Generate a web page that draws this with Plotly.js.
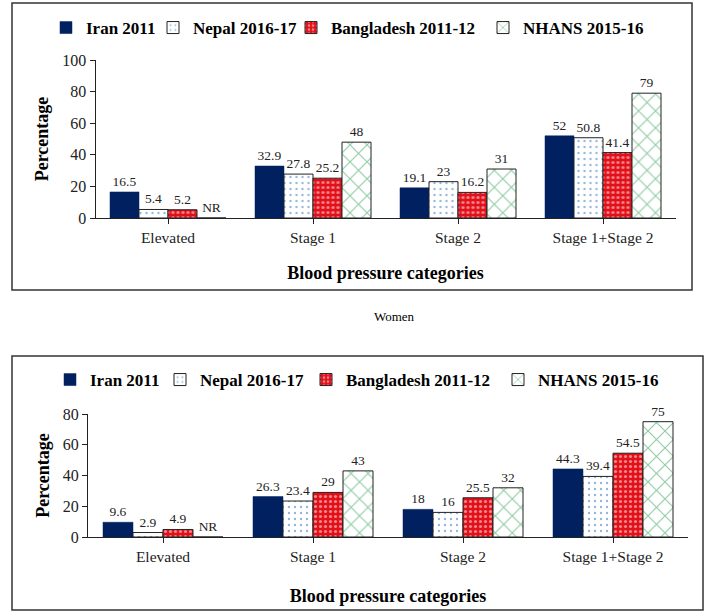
<!DOCTYPE html>
<html>
<head>
<meta charset="utf-8">
<script src="https://cdn.plot.ly/plotly-3.0.1.min.js"></script>
<style>html,body{margin:0;padding:0;background:#fff;}#chart{width:709px;height:614px;}</style>
</head>
<body>
<div id="chart"></div>
<script>
// ---- data ----
var categories = ["Elevated", "Stage 1", "Stage 2", "Stage 1+Stage 2"];
var seriesNames = ["Iran 2011", "Nepal 2016-17", "Bangladesh 2011-12", "NHANS 2015-16"];

// top chart
var iranTop = [16.5, 32.9, 19.1, 52];
var nepalTop = [5.4, 27.8, 23, 50.8];
var bangladeshTop = [5.2, 25.2, 16.2, 41.4];
var nhansTop = [null, 48, 31, 79];   // null = NR

// bottom chart
var iranBottom = [9.6, 26.3, 18, 44.3];
var nepalBottom = [2.9, 23.4, 16, 39.4];
var bangladeshBottom = [4.9, 29, 25.5, 54.5];
var nhansBottom = [null, 43, 32, 75];

var yTicksTop = [0, 20, 40, 60, 80, 100];
var yTicksBottom = [0, 20, 40, 60, 80];

var captionText = "Women";
var xTitle = "Blood pressure categories";
var yTitle = "Percentage";

// ---- styles ----
var W = 709, H = 614;
function px(x) { return x / W; }
function py(y) { return 1 - y / H; }
var serif = "Liberation Serif";

var styles = [
  { color: "#002060", line: { color: "#002060", width: 0.5 }, pattern: null },
  { color: "#ffffff", line: { color: "#222", width: 1 },
    pattern: { shape: ".", fgcolor: "#2a6ab8", bgcolor: "#ffffff", size: 6, solidity: 0.12, fillmode: "overlay" } },
  { color: "#e3101a", line: { color: "#222", width: 1 },
    pattern: { shape: ".", fgcolor: "#ffffff", bgcolor: "#e3101a", size: 5, solidity: 0.3, fillmode: "overlay" } },
  { color: "#ffffff", line: { color: "#222", width: 1 },
    pattern: { shape: "x", fgcolor: "#1e9a48", bgcolor: "#ffffff", size: 12, solidity: 0.18, fillmode: "overlay" } }
];
var legendWidthsTop = [62, 93, 147, 125];
var legendWidthsBottom = [65, 101, 147, 125];

function makeTraces(seriesList, xa, ya, legendId, widths) {
  return seriesList.map(function (vals, i) {
    var st = styles[i];
    var marker = { color: st.color, line: st.line };
    if (st.pattern) marker.pattern = st.pattern;
    return {
      type: "bar",
      name: seriesNames[i],
      x: categories,
      y: vals.map(function (v) { return v === null ? 0 : v; }),
      text: vals.map(function (v) { return v === null ? "NR" : String(v); }),
      textposition: "outside",
      textfont: { family: serif, size: 13.5, color: "#222" },
      cliponaxis: false,
      marker: marker,
      xaxis: xa, yaxis: ya,
      legend: legendId,
      legendwidth: widths[i],
      hoverinfo: "x+y+name"
    };
  });
}

var traces = []
  .concat(makeTraces([iranTop, nepalTop, bangladeshTop, nhansTop], "x", "y", "legend", legendWidthsTop))
  .concat(makeTraces([iranBottom, nepalBottom, bangladeshBottom, nhansBottom], "x2", "y2", "legend2", legendWidthsBottom));

function xAxis(domain, anchor, standoff) {
  return {
    domain: domain, anchor: anchor, type: "category",
    showline: true, linecolor: "#222", linewidth: 1,
    ticks: "outside", ticklen: 5, tickcolor: "#222",
    tickfont: { family: serif, size: 15.5, color: "#222" },
    showgrid: false, zeroline: false, fixedrange: true,
    title: { text: xTitle, font: { family: serif, size: 18, color: "#000", weight: "bold" }, standoff: standoff }
  };
}
function yAxis(domain, anchor, range, ticks) {
  return {
    domain: domain, anchor: anchor, range: range,
    tickmode: "array", tickvals: ticks,
    showline: true, linecolor: "#222", linewidth: 1,
    ticks: "outside", ticklen: 5, tickcolor: "#222",
    tickfont: { family: serif, size: 16, color: "#222" },
    showgrid: false, zeroline: false, fixedrange: true,
    title: { text: yTitle, font: { family: serif, size: 18, color: "#000", weight: "bold" }, standoff: 8 }
  };
}

var legendFont = { family: serif, size: 17, color: "#000", weight: "bold" };

var layout = {
  width: W, height: H,
  margin: { l: 0, r: 0, t: 0, b: 0 },
  paper_bgcolor: "#ffffff", plot_bgcolor: "#ffffff",
  barmode: "group", bargap: 0.2, bargroupgap: 0,
  xaxis: xAxis([px(95.5), px(675.5)], "y", 21),
  yaxis: yAxis([py(218), py(60)], "x", [0, 100], yTicksTop),
  xaxis2: xAxis([px(88), px(688)], "y2", 25),
  yaxis2: yAxis([py(537), py(414)], "x2", [0, 80], yTicksBottom),
  legend: { orientation: "h", x: px(46), y: py(28), xanchor: "left", yanchor: "middle",
            font: legendFont, bgcolor: "rgba(0,0,0,0)", traceorder: "normal" },
  legend2: { orientation: "h", x: px(50), y: py(380), xanchor: "left", yanchor: "middle",
             font: legendFont, bgcolor: "rgba(0,0,0,0)", traceorder: "normal" },
  shapes: [
    { type: "rect", xref: "paper", yref: "paper", x0: px(12), x1: px(692), y0: py(3), y1: py(290),
      line: { color: "#333", width: 1.5 } },
    { type: "rect", xref: "paper", yref: "paper", x0: px(12), x1: px(703), y0: py(356), y1: py(610),
      line: { color: "#333", width: 1.5 } }
  ],
  annotations: [
    { text: captionText, xref: "paper", yref: "paper", x: px(394), y: py(316),
      xanchor: "center", yanchor: "middle", showarrow: false,
      font: { family: serif, size: 13, color: "#000" } }
  ]
};

Plotly.newPlot("chart", traces, layout, { displayModeBar: false, responsive: false });
</script>
</body>
</html>
